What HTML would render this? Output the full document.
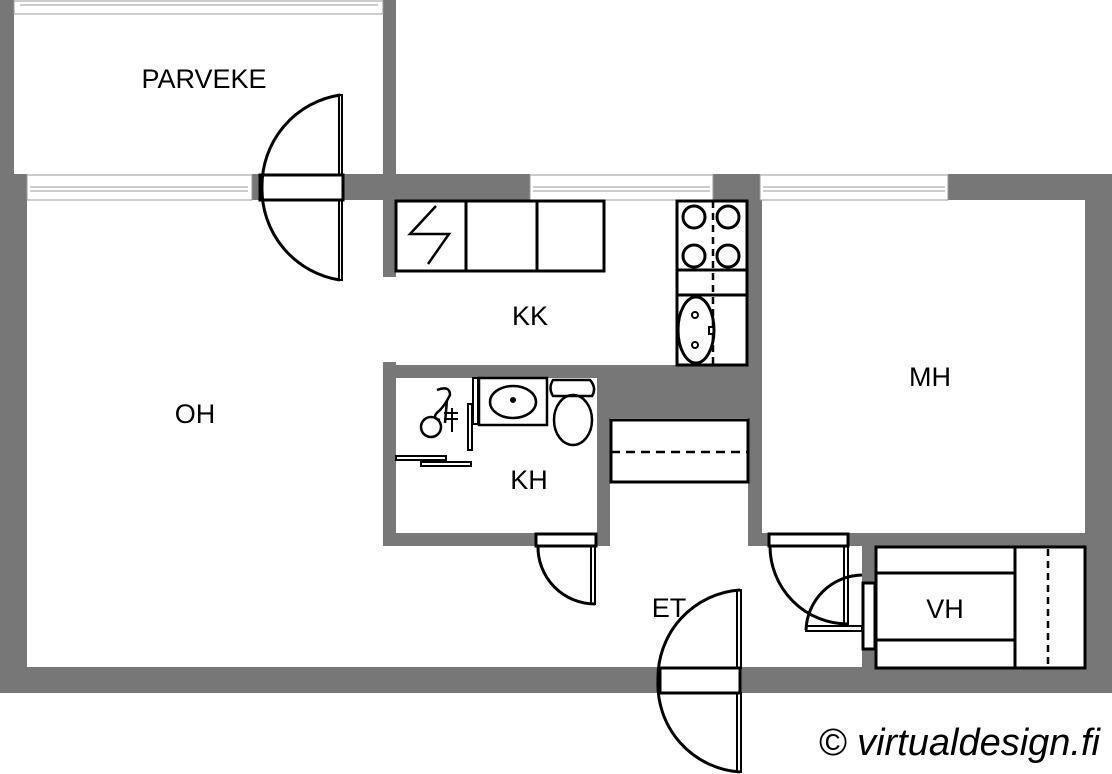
<!DOCTYPE html>
<html><head><meta charset="utf-8"><style>
html,body{margin:0;padding:0;background:#fff;}
svg{display:block;}
text{font-family:"Liberation Sans",sans-serif;fill:#000;}
</style></head><body>
<svg width="1112" height="774" viewBox="0 0 1112 774" xmlns="http://www.w3.org/2000/svg">
<g fill="#777">
 <rect x="0" y="0" width="14" height="175"/>
 <rect x="383" y="0" width="13" height="277"/>
 <rect x="0" y="174" width="27" height="519"/>
 <rect x="1085" y="174" width="27" height="519"/>
 <rect x="343" y="174" width="187" height="26"/>
 <rect x="713" y="174" width="47" height="26"/>
 <rect x="948" y="174" width="164" height="26"/>
 <rect x="252" y="174" width="8" height="26"/>
 <rect x="0" y="667" width="660" height="26"/>
 <rect x="740" y="667" width="372" height="26"/>
 <rect x="383" y="362" width="13" height="184"/>
 <rect x="383" y="365" width="377" height="13"/>
 <rect x="600" y="365" width="160" height="53"/>
 <rect x="597" y="365" width="13" height="181"/>
 <rect x="383" y="533" width="154" height="13"/>
 <rect x="748" y="200" width="14" height="346"/>
 <rect x="748" y="533" width="22" height="13"/>
 <rect x="848" y="533" width="237" height="13"/>
 <rect x="862" y="546" width="13" height="121"/>
</g>
<g fill="#fff" stroke="#999" stroke-width="1">
 <rect x="14" y="1" width="369" height="13"/>
 <line x1="20" y1="5" x2="378" y2="5"/>
 <rect x="27" y="175" width="225" height="25"/>
 <line x1="30" y1="187" x2="248" y2="187"/><line x1="30" y1="191" x2="248" y2="191"/>
 <rect x="530" y="175" width="183" height="25"/>
 <line x1="533" y1="187" x2="710" y2="187"/><line x1="533" y1="191" x2="710" y2="191"/>
 <rect x="760" y="175" width="188" height="25"/>
 <line x1="763" y1="187" x2="945" y2="187"/><line x1="763" y1="191" x2="945" y2="191"/>
</g>
<g fill="none" stroke="#000" stroke-width="3">
 <rect x="260" y="175" width="83" height="25" fill="#fff"/>
 <path d="M340 95 A92 92 0 0 0 262 187 A92 92 0 0 0 340 280"/>
 <rect x="339" y="95" width="3" height="80" stroke-width="2"/>
 <rect x="339" y="200" width="3" height="80" stroke-width="2"/>
 <rect x="660" y="668" width="80" height="25" fill="#fff"/>
 <path d="M740 590 A88 88 0 0 0 658 680 A88 88 0 0 0 740 772"/>
 <rect x="737" y="590" width="4" height="78" stroke-width="2"/>
 <rect x="737" y="693" width="4" height="79" stroke-width="2"/>
 <rect x="536" y="534" width="60" height="12" fill="#fff"/>
 <path d="M538 546 A57 57 0 0 0 595 604"/>
 <rect x="591" y="546" width="4" height="58" stroke-width="2"/>
 <rect x="769" y="534" width="79" height="12" fill="#fff"/>
 <path d="M770 546 A78 78 0 0 0 848 624"/>
 <rect x="844" y="546" width="4" height="78" stroke-width="2"/>
 <rect x="863" y="583" width="12" height="66" fill="#fff"/>
 <path d="M862 575 A57 57 0 0 0 806 630"/>
 <rect x="806" y="626" width="56" height="5" stroke-width="2"/>
 <rect x="396" y="201" width="208" height="70"/>
 <line x1="466" y1="201" x2="466" y2="271"/><line x1="537" y1="201" x2="537" y2="271"/>
 <path d="M436 206 L410 234 L449 234 L428 264" stroke-width="2.5"/>
 <rect x="677" y="201" width="70" height="164"/>
 <line x1="677" y1="270" x2="747" y2="270"/><line x1="677" y1="295" x2="747" y2="295"/>
 <line x1="713" y1="201" x2="713" y2="365" stroke-dasharray="7 5" stroke-width="2.5"/>
 <circle cx="694" cy="217" r="11"/><circle cx="728" cy="217" r="11"/>
 <circle cx="694" cy="256" r="11"/><circle cx="728" cy="256" r="11"/>
 <ellipse cx="696" cy="330" rx="18" ry="33"/>
 <circle cx="695" cy="315" r="3" stroke-width="2"/><circle cx="695" cy="345" r="3" stroke-width="2"/>
 <rect x="709" y="327" width="5" height="7" stroke-width="2"/>
 <rect x="611" y="420" width="137" height="62" fill="#fff"/>
 <line x1="611" y1="452" x2="748" y2="452" stroke-dasharray="9 6" stroke-width="2.5"/>
 <rect x="479" y="378" width="68" height="47" stroke-width="2.5"/>
 <ellipse cx="513" cy="402" rx="23" ry="16" stroke-width="2.5"/>
 <circle cx="513" cy="400" r="1.5" fill="#000"/>
 <rect x="473" y="378" width="5" height="46" stroke-width="2"/>
 <rect x="468" y="404" width="4" height="46" stroke-width="2"/>
 <path d="M553 380 L590 380 Q597 388 592 396 L553 396 Q548 388 553 380 Z" stroke-width="2.5"/>
 <ellipse cx="573" cy="420" rx="19" ry="25" stroke-width="2.5"/>
 <path d="M437 390 Q450 385 450 395 Q445 405 440 410 Q430 418 440 420 M447 400 L445 423" stroke-width="2.5"/>
 <circle cx="431" cy="427" r="10" stroke-width="2.5"/>
 <path d="M444 413 L458 413 M444 419 L458 419 M452 408 L452 432" stroke-width="2"/>
 <rect x="396" y="456" width="50" height="4" stroke-width="2"/>
 <rect x="421" y="462" width="50" height="4" stroke-width="2"/>
 <rect x="876" y="547" width="209" height="121" fill="#fff"/>
 <line x1="876" y1="573" x2="1015" y2="573"/><line x1="876" y1="640" x2="1015" y2="640"/>
 <line x1="1015" y1="547" x2="1015" y2="668"/>
 <line x1="1048" y1="549" x2="1048" y2="668" stroke-dasharray="7 5" stroke-width="2.5"/>
</g>
<text x="204" y="88" font-size="27" text-anchor="middle">PARVEKE</text>
<text x="530" y="325" font-size="27" text-anchor="middle">KK</text>
<text x="195" y="423" font-size="27" text-anchor="middle">OH</text>
<text x="529" y="489" font-size="27" text-anchor="middle">KH</text>
<text x="930" y="386" font-size="27" text-anchor="middle">MH</text>
<text x="669" y="617" font-size="27" text-anchor="middle">ET</text>
<text x="945" y="618" font-size="27" text-anchor="middle">VH</text>
<text x="1100" y="755" font-size="38" font-style="italic" text-anchor="end">© virtualdesign.fi</text>
</svg>
</body></html>
